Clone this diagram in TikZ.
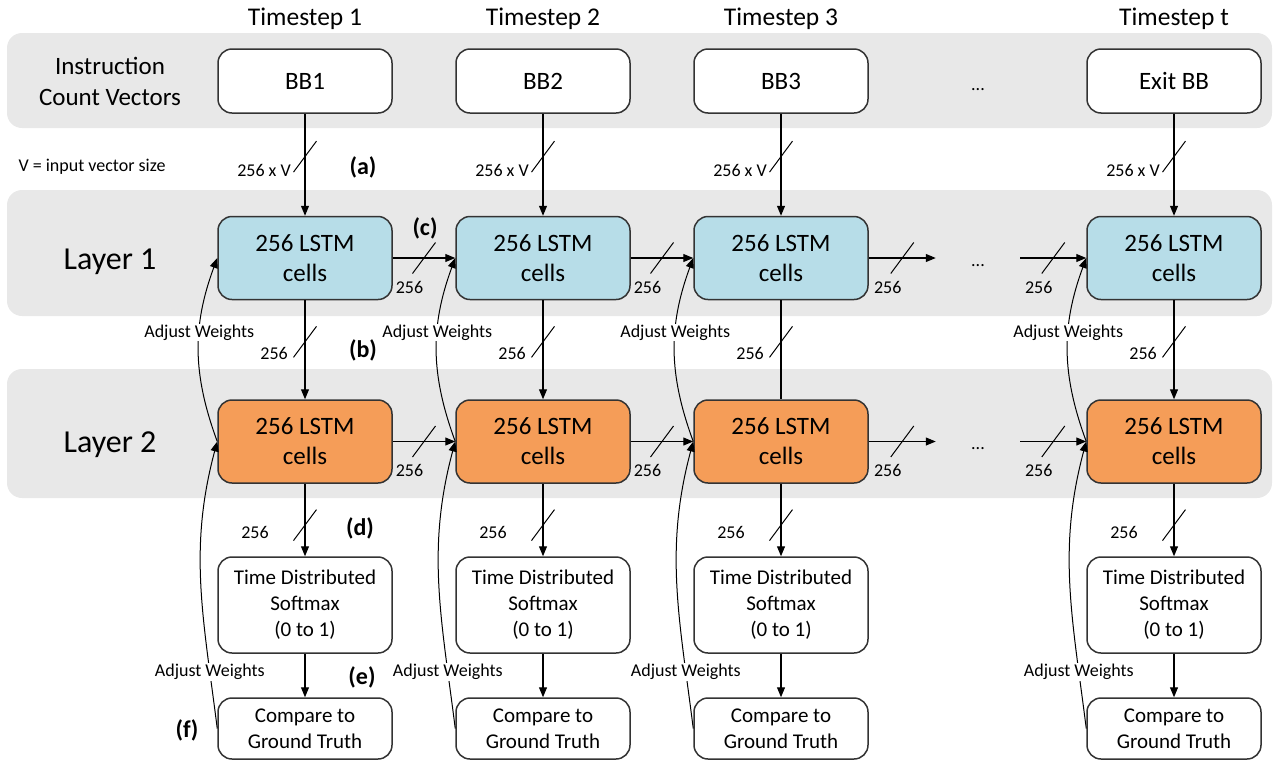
\documentclass[tikz,border=0pt]{standalone}
\usepackage{fontspec}
\setmainfont{Carlito}
\usetikzlibrary{arrows.meta,positioning}

\definecolor{bandgray}{HTML}{E8E8E8}
\definecolor{cellblue}{HTML}{B7DDE8}
\definecolor{cellorange}{HTML}{F59D58}
\newcommand{\fsz}[2]{\fontsize{#1}{#2}\selectfont}

\begin{document}
\begin{tikzpicture}[x=1pt,y=-1pt,
    band/.style={fill=bandgray,rounded corners=15pt},
    box/.style={draw=black!80,line width=1.5pt,rounded corners=14pt,
        minimum width=174pt,inner sep=0pt,align=center},
    inbox/.style={box,fill=white,minimum height=64pt,font=\fsz{25}{30}},
    cell/.style={box,minimum height=83pt,font=\fsz{25}{30}},
    outbox/.style={box,fill=white,font=\fsz{21}{26}},
    link/.style={line width=1.1pt,-{Triangle[length=10pt,width=8pt]}},
    bus/.style={line width=1pt},
    small/.style={font=\fsz{18}{22},inner sep=0pt},
    tag/.style={font=\bfseries\fsz{24}{29},inner sep=0pt},
    adjust/.style={small,fill=white,inner sep=1pt}]
\useasboundingbox (0,0) rectangle (1273,761);

% grey bands
\fill[band] (7,33) rectangle (1272,128);
\fill[band] (7,190) rectangle (1272,316);
\fill[band] (7,369) rectangle (1272,498);

\node[font=\fsz{25}{31},align=center] (icv) at (110,81) {Instruction\\Count Vectors};
\node[font=\fsz{32}{38},anchor=base] (layer1) at (110,269) {Layer 1};
\node[font=\fsz{32}{38},anchor=base] (layer2) at (110,452) {Layer 2};
\node[small,anchor=base] (vsize) at (92,171) {V = input vector size};

% one column per timestep
\foreach \i/\x/\lbl/\stp in {1/305/BB1/1,2/543/BB2/2,3/781/BB3/3,4/1174/Exit BB/t}{
    \node[font=\fsz{25.5}{30},anchor=base] (ts\i) at (\x,25) {Timestep \stp};
    \node[inbox] (bb\i) at (\x,81) {\lbl};
    \node[cell,fill=cellblue] (lo\i) at (\x,258) {256 LSTM\\cells};
    \node[cell,fill=cellorange] (lt\i) at (\x,441.5) {256 LSTM\\cells};
    \node[outbox,minimum height=96pt] (sm\i) at (\x,605) {Time Distributed\\Softmax\\(0 to 1)};
    \node[outbox,minimum height=61pt] (gt\i) at (\x,728.5) {Compare to\\Ground Truth};
}
\node[small,anchor=base] (dotsbb) at (978,90) {...};

% downward flow
\foreach \i in {1,...,4}{
    \draw[link] (bb\i) -- coordinate[pos=.42] (a\i) (lo\i);
    \draw[link] (lt\i) -- coordinate[pos=.57] (d\i) (sm\i);
    \draw[link] (sm\i) -- (gt\i);
}
\foreach \i in {1,2,4}
    \draw[link] (lo\i) -- coordinate[pos=.42] (b\i) (lt\i);
\draw[line width=1.1pt] (lo3) -- coordinate[pos=.42] (b3) (lt3);

% recurrent links in both layers
\foreach \r/\y in {lo/258,lt/441.5}{
    \draw[link] (\r1) -- coordinate (\r12) (\r2);
    \draw[link] (\r2) -- coordinate (\r23) (\r3);
    \coordinate (\r3e) at ([xshift=67pt]\r3.east);
    \coordinate (\r4s) at ([xshift=-66pt]\r4.west);
    \draw[link] (\r3) -- coordinate (\r3x) (\r3e);
    \draw[link] (\r4s) -- coordinate (\r4x) (\r4);
    \node[small,anchor=base] (dots\r) at (978,\y+8) {...};
    \foreach \c in {\r12,\r23,\r3x,\r4x}{
        \draw[bus] (\c) ++(-11.5,15.5) -- ++(23,-31);
        \node[small,anchor=base] at ([shift={(-14.5,35)}]\c) {256};
    }
}

% bus widths
\foreach \i in {1,...,4}{
    \draw[bus] (a\i) ++(-11.5,15.5) -- ++(23,-31);
    \node[small,anchor=base east] at ([shift={(-14,20)}]a\i) {256 x V};
    \draw[bus] (b\i) ++(-11.5,15.5) -- ++(23,-31);
    \node[small,anchor=base east] at ([shift={(-17,18)}]b\i) {256};
    \draw[bus] (d\i) ++(-11.5,15.5) -- ++(23,-31);
    \node[small,anchor=base] at ([shift={(-50,13)}]d\i) {256};
}

% weight updates
\foreach \i in {1,...,4}{
    \draw[link,line width=1pt] (lt\i.west) .. controls +(-25,-68) and +(-25,68) .. (lo\i.west)
        node[adjust,pos=.6] {Adjust Weights};
    \draw[link,line width=1pt] (gt\i.west) .. controls +(-14,-111) and +(-29,108) .. (lt\i.west)
        node[adjust,pos=.18] {Adjust Weights};
}

\node[tag] (ta) at (363,167) {(a)};
\node[tag] (tb) at (363,350) {(b)};
\node[tag] (tc) at (425,228) {(c)};
\node[tag] (td) at (360,528) {(d)};
\node[tag] (te) at (362,677) {(e)};
\node[tag] (tf) at (187,730) {(f)};

\end{tikzpicture}
\end{document}
